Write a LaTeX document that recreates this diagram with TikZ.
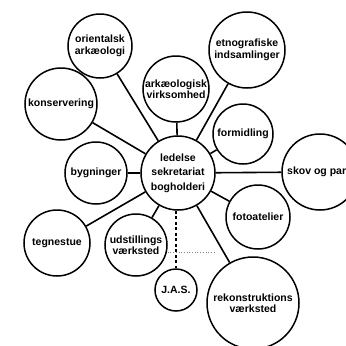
\documentclass[tikz,border=0pt]{standalone}
\usepackage{fontspec}
\setmainfont{Liberation Sans}
\begin{document}
\begin{tikzpicture}[x=1pt,y=-1pt,
  bub/.style={circle,draw,line width=1.5pt,inner sep=0pt,align=center,
    font=\fontsize{10.5}{11.5}\selectfont\bfseries},
  conn/.style={line width=1.6pt},
  dashconn/.style={line width=1.6pt,dash pattern=on 3pt off 2.5pt},
  faint/.style={line width=0.7pt,gray,dotted}]
\useasboundingbox (0,0) rectangle (346,346);
\clip (0,0) rectangle (346,346);
\node[bub,minimum size=74pt,font=\fontsize{10.5}{14.5}\selectfont\bfseries] (cen) at (178,173) {ledelse\\sekretariat\\bogholderi};
\node[bub,minimum size=64pt] (ori) at (100,46) {orientalsk\\arkæologi};
\node[bub,minimum size=72pt] (kon) at (61,104) {konservering};
\node[bub,minimum size=62pt] (byg) at (96,173) {bygninger};
\node[bub,minimum size=66pt] (ark) at (176,89) {arkæologisk\\virksomhed};
\node[bub,minimum size=76pt] (etn) at (247,50) {etnografiske\\indsamlinger};
\node[bub,minimum size=60pt] (for) at (243,134) {formidling};
\node[bub,minimum size=76pt] (sko) at (320,172) {\hspace*{37pt}};
\node[font=\fontsize{10.5}{11.5}\selectfont\bfseries,anchor=west,inner sep=0pt] (skot) at (287,172) {skov og park};
\node[bub,minimum size=66pt] (teg) at (57,243) {tegnestue};
\node[bub,minimum size=62pt] (uds) at (136,245) {udstillings\\værksted};
\node[bub,minimum size=42pt] (jas) at (176,290) {J.A.S.};
\node[bub,minimum size=64pt] (fot) at (258,217) {fotoatelier};
\node[bub,minimum size=92pt] (rek) at (253,303) {rekonstruktions\\værksted};
\coordinate (dotend) at (215,252);
\draw[conn] (cen) -- (ori);
\draw[conn] (cen) -- (kon);
\draw[conn] (cen) -- (byg);
\draw[conn] (cen) -- (ark);
\draw[conn] (cen) -- (etn);
\draw[conn] (cen) -- (for);
\draw[conn] (cen) -- (sko);
\draw[conn] (cen) -- (teg);
\draw[conn] (cen) -- (uds);
\draw[conn] (cen) -- (fot);
\draw[conn] (cen) -- (rek);
\draw[dashconn] (cen.south -| jas.north) -- (jas.north);
\draw[faint] (uds.east |- dotend) -- (dotend);
\end{tikzpicture}
\end{document}
